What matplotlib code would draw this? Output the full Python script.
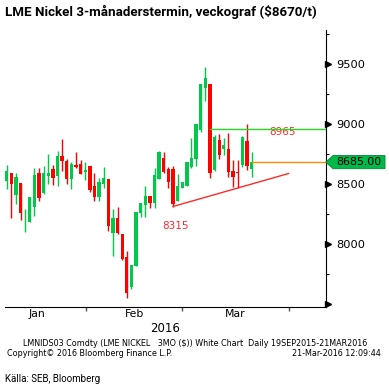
import numpy as np
import matplotlib.pyplot as plt
import matplotlib.transforms as mtransforms
from matplotlib.patches import Polygon

# daily candles, LME nickel 3M, Jan - 21 Mar 2016
opens = [8530, 8591, 8413, 8508, 8232, 8188, 8308, 8591, 8425, 8572,
         8627, 8569, 8738, 8697, 8544, 8661, 8666, 8605, 8655, 8488,
         8397, 8502, 8541, 8097, 8222, 8086, 7894, 7647, 7822, 8264,
         8327, 8405, 8341, 8544, 8722, 8627, 8627, 8363, 8472, 8489,
         8647, 8708, 8952, 9300, 9336, 8619, 8869, 8791, 8794, 8611,
         8602, 8661, 8861, 8627]
highs = [8661, 8591, 8591, 8508, 8294, 8394, 8638, 8633, 8652, 8752,
         8661, 8777, 8877, 8708, 8688, 8772, 8702, 8686, 8655, 8591,
         8550, 8647, 8541, 8294, 8313, 8086, 7944, 7827, 8272, 8347,
         8489, 8405, 8638, 8777, 8769, 8647, 8652, 8583, 8522, 8688,
         8883, 9000, 9336, 9480, 9336, 8911, 8916, 8883, 8925, 8702,
         8702, 8902, 9002, 8766]
lows = [8461, 8222, 8336, 8200, 8105, 8188, 8236, 8361, 8419, 8502,
        8494, 8488, 8613, 8502, 8461, 8638, 8586, 8536, 8438, 8361,
        8361, 8466, 8111, 7905, 8086, 7869, 7555, 7627, 7822, 8225,
        8225, 8300, 8300, 8544, 8591, 8472, 8315, 8363, 8466, 8489,
        8638, 8655, 8938, 9194, 8550, 8611, 8711, 8744, 8563, 8480,
        8472, 8641, 8619, 8563]
closes = [8611, 8500, 8563, 8264, 8238, 8394, 8577, 8388, 8597, 8591,
          8550, 8738, 8697, 8544, 8669, 8641, 8586, 8622, 8452, 8397,
          8522, 8550, 8155, 8216, 8091, 7875, 7597, 7827, 8272, 8341,
          8405, 8341, 8577, 8769, 8605, 8516, 8333, 8486, 8522, 8683,
          8722, 9000, 9336, 9383, 8591, 8897, 8744, 8827, 8605, 8558,
          8594, 8897, 8655, 8685]

month_labels = ['Jan', 'Feb', 'Mar']
month_edges = [17.2, 38.0, 61.1]
month_centers = [6.5, 27.6, 49.55]

resist = 8965
last_price = 8685
trend_x = [36, 61]
trend_y = [8315, 8590]

green = '#00c84b'
red = '#ff0000'

o = np.array(opens); c = np.array(closes)
h = np.array(highs); l = np.array(lows)
x = np.arange(len(o))
up = c >= o
cols = np.where(up, green, red)

fig = plt.figure(figsize=(3.89, 3.89), dpi=100)
ax = fig.add_axes([5/389, 82.3/389, 320.7/389, 276.7/389])

ax.vlines(x, l, h, colors=cols, lw=1.0, zorder=2)
body_lo = np.minimum(o, c)
body_h = np.maximum(np.abs(c - o), 6)
ax.bar(x, body_h, bottom=body_lo, width=0.72, color=cols, zorder=3, linewidth=0)

# lines and labels
ax.plot([44, 69.05], [resist, resist], color='#22dd22', lw=1.0, zorder=4)
ax.plot([53, 69.05], [last_price, last_price], color='#ff8c00', lw=1.0, zorder=4)
ax.plot(trend_x, trend_y, color='#ff2a2a', lw=1.0, zorder=4)
ax.text(59.6, 8938, '8965', color='#ff2a2a', fontsize=7.5, ha='center', va='center')
ax.text(36.6, 8155, '8315', color='#ff2a2a', fontsize=7.5, ha='center', va='center')

ax.set_xlim(-0.37, 69.05)
ax.set_ylim(7480, 9786)

for s in ['top', 'left']:
    ax.spines[s].set_visible(False)
ax.spines['bottom'].set_color('black')
ax.spines['right'].set_color('black')

ax.yaxis.tick_right()
ax.set_yticks([7500, 8000, 8500, 9000, 9500])
ax.set_yticks([7750, 8250, 8750, 9250, 9750], minor=True)
ax.tick_params(axis='y', which='major', length=0, pad=7.5, labelsize=8.2)
ax.tick_params(axis='y', which='minor', length=2.5, width=0.8, direction='out')
ax.set_yticklabels(['', '8000', '8500', '9000', '9500'])

ax.set_xticks(month_edges)
ax.set_xticklabels(['', '', ''])
ax.set_xticks(month_centers, month_labels, minor=True)
ax.tick_params(axis='x', which='major', length=3, width=1, color='#555555', direction='out')
ax.tick_params(axis='x', which='minor', length=0, pad=2, labelsize=7.8)

# triangle tick marks on the right axis
tr = mtransforms.blended_transform_factory(ax.transAxes, ax.transData)
ax.plot([1.008]*5, [7500, 8000, 8500, 9000, 9500], ls='none', marker='>',
        ms=4, color='black', transform=tr, clip_on=False, zorder=5)

# last price label
bh = 55
poly = Polygon([(1.0, last_price), (1.023, last_price + bh), (1.185, last_price + bh),
                (1.185, last_price - bh), (1.023, last_price - bh)],
               closed=True, transform=tr, facecolor='#00b84a', edgecolor='#008a30',
               lw=0.6, clip_on=False, zorder=6)
ax.add_patch(poly)
ax.text(1.105, last_price, '%.2f' % last_price, transform=tr, fontsize=7.9,
        ha='center', va='center', color='black', zorder=7, clip_on=False)

narrow = ['Roboto', 'DejaVu Sans']
fig.text(5/389, 1 - 12/389, 'LME Nickel 3-månaderstermin, veckograf ($8670/t)',
         fontsize=9.6, fontweight='bold', family=narrow, va='center', ha='left')
fig.text(165/389, 1 - 328/389, '2016', fontsize=8.5, ha='center', va='center')
fig.text(195/389, 1 - 343.5/389,
         'LMNIDS03 Comdty (LME NICKEL   3MO ($)) White Chart  Daily 19SEP2015-21MAR2016',
         fontsize=5.8, ha='center', va='center')
fig.text(7/389, 1 - 354/389, 'Copyright© 2016 Bloomberg Finance L.P.',
         fontsize=5.8, ha='left', va='center')
fig.text(381/389, 1 - 354/389, '21-Mar-2016 12:09:44',
         fontsize=5.8, ha='right', va='center')
fig.text(5/389, 1 - 379.5/389, 'Källa: SEB, Bloomberg', fontsize=7.0,
         family=narrow, ha='left', va='center')

fig.savefig('out.png', dpi=100)
